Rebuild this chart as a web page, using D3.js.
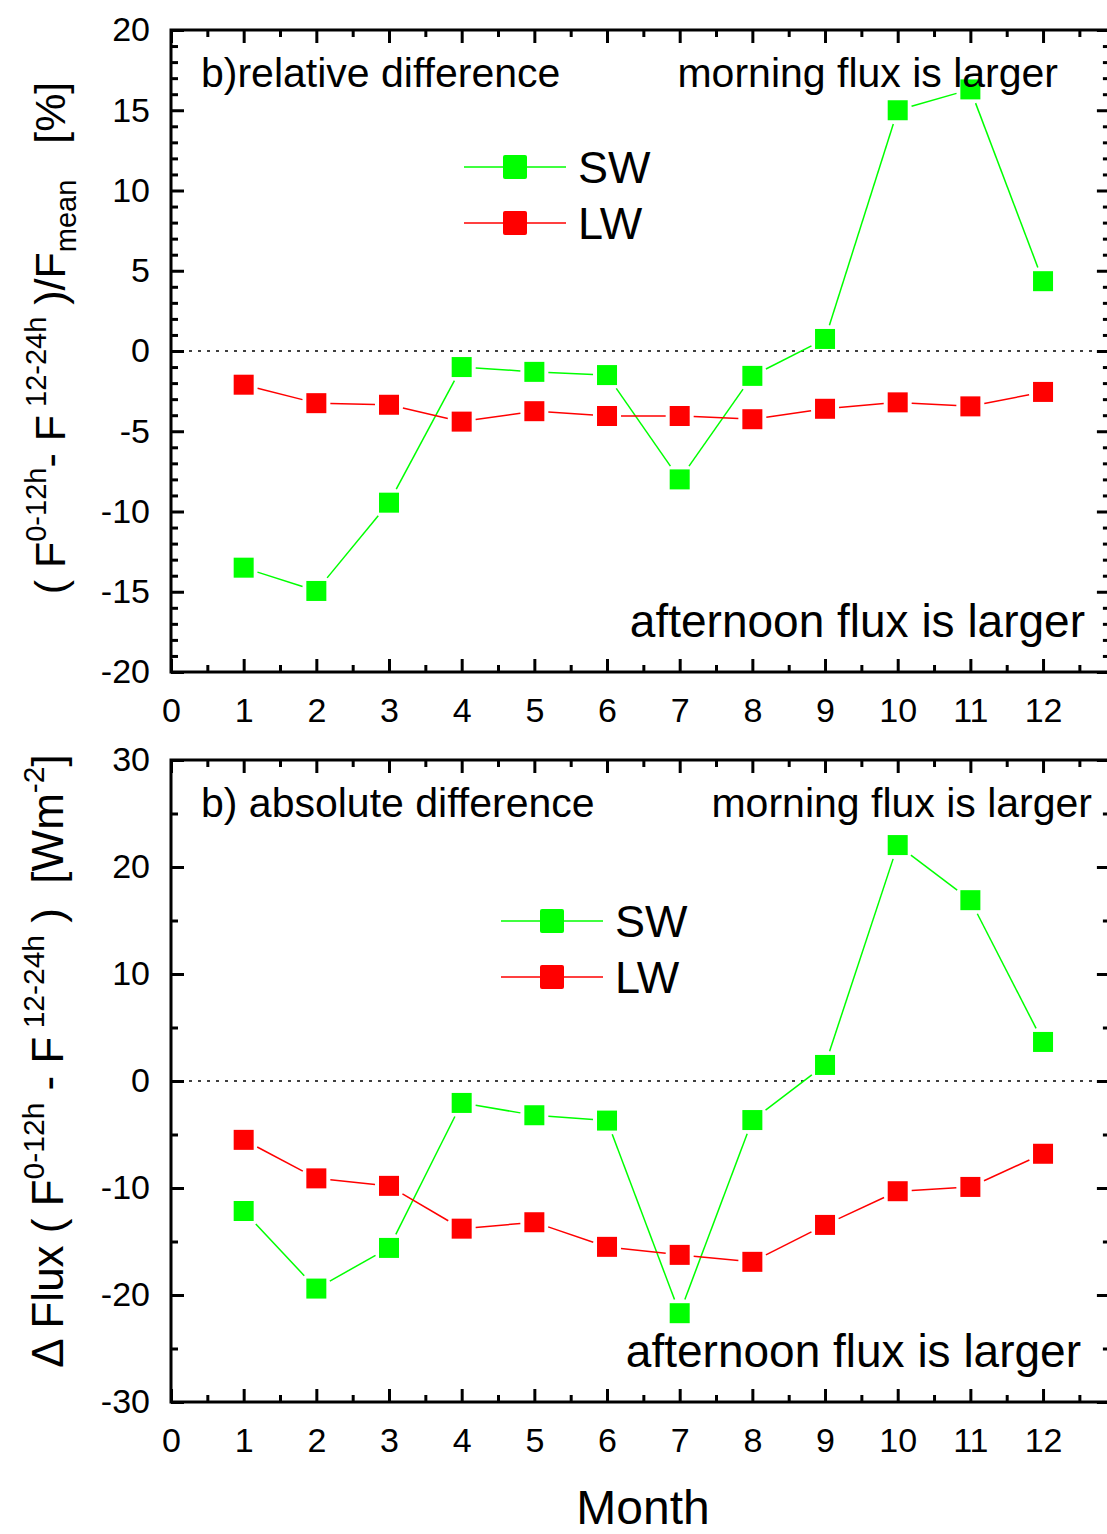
<!DOCTYPE html>
<html>
<head>
<meta charset="utf-8">
<script src="https://cdn.jsdelivr.net/npm/d3@7"></script>
<style>
  body { margin: 0; background: #fff; }
  text { font-family: "Liberation Sans", Arial, sans-serif; fill: #000; }
</style>
</head>
<body>
<div class="graph-center"></div>
<script>
// data
let months = [1, 2, 3, 4, 5, 6, 7, 8, 9, 10, 11, 12]
let swRelative = [-13.5, -14.95, -9.45, -1.0, -1.3, -1.5, -8.0, -1.55, 0.75, 15.0, 16.3, 4.35]
let lwRelative = [-2.1, -3.25, -3.35, -4.4, -3.75, -4.05, -4.05, -4.25, -3.6, -3.2, -3.45, -2.55]
let swAbsolute = [-12.15, -19.4, -15.6, -2.05, -3.2, -3.7, -21.7, -3.65, 1.5, 22.05, 16.9, 3.65]
let lwAbsolute = [-5.5, -9.1, -9.8, -13.8, -13.2, -15.5, -16.25, -16.9, -13.45, -10.3, -9.9, -6.8]

// tick values
let xMajor = [0, 1, 2, 3, 4, 5, 6, 7, 8, 9, 10, 11, 12]
let xMinor = [0.5, 1.5, 2.5, 3.5, 4.5, 5.5, 6.5, 7.5, 8.5, 9.5, 10.5, 11.5, 12.5]
let yMajorTop = [-20, -15, -10, -5, 0, 5, 10, 15, 20]
let yMinorTop = d3.range(-19, 20).filter(d => d % 5 !== 0)
let yMajorBottom = [-30, -20, -10, 0, 10, 20, 30]
let yMinorBottom = [-25, -15, -5, 5, 15, 25]

let svgWidth = 1107
let svgHeight = 1534
let green = '#00ff00'
let red = '#ff0000'

let svg = d3.select('.graph-center')
    .append('svg')
    .attr('width', svgWidth)
    .attr('height', svgHeight)

// shared x scale, right frame edge sits just outside the picture
let xScale = d3.scaleLinear().domain([0, 12.92]).range([171, 171 + 12.92 * 72.67])
let xLeft = xScale(0)
let xRight = xScale(12.92)

function drawPanel(cfg) {
    let yScale = d3.scaleLinear().domain(cfg.yDomain).range([cfg.bottom, cfg.top])
    let g = svg.append('g')

    // zero line
    g.append('line')
        .attr('x1', xLeft).attr('x2', xRight)
        .attr('y1', yScale(0)).attr('y2', yScale(0))
        .attr('stroke', '#000')
        .attr('stroke-width', 1.5)
        .attr('stroke-dasharray', '3,6')

    // ticks on all four sides, pointing inward
    let fmt = d => String(d)
    let sides = [
        {axis: d3.axisLeft(yScale), t: `translate(${xLeft},0)`, major: cfg.yMajor, minor: cfg.yMinor, label: true},
        {axis: d3.axisRight(yScale), t: `translate(${xRight},0)`, major: cfg.yMajor, minor: cfg.yMinor, label: false},
        {axis: d3.axisBottom(xScale), t: `translate(0,${cfg.bottom})`, major: xMajor, minor: xMinor, label: true},
        {axis: d3.axisTop(xScale), t: `translate(0,${cfg.top})`, major: xMajor, minor: xMinor, label: false}
    ]
    sides.forEach((s, i) => {
        let major = s.axis.tickValues(s.major).tickSize(-13).tickSizeOuter(0)
            .tickPadding(i === 0 ? 21 : 26)
            .tickFormat(s.label ? fmt : '')
        let ga = g.append('g').attr('transform', s.t).call(major)
        ga.select('.domain').remove()
        ga.selectAll('line').attr('stroke-width', 3)
        ga.selectAll('text').attr('font-size', 34).style('font-family', '"Liberation Sans", Arial, sans-serif')

        let minorAxis = s.axis.tickValues(s.minor).tickSize(-7).tickFormat('')
        let gm = g.append('g').attr('transform', s.t).call(minorAxis)
        gm.select('.domain').remove()
        gm.selectAll('line').attr('stroke-width', 3)
    })

    // frame
    g.append('rect')
        .attr('x', xLeft).attr('y', cfg.top)
        .attr('width', xRight - xLeft).attr('height', cfg.bottom - cfg.top)
        .attr('fill', 'none')
        .attr('stroke', '#000')
        .attr('stroke-width', 3)

    // series: segments stop short of the markers
    let half = 10
    cfg.series.forEach(s => {
        let pts = months.map((m, i) => [xScale(m), yScale(s.values[i])])
        let segs = d3.pairs(pts).map(([a, b]) => {
            let dx = b[0] - a[0], dy = b[1] - a[1]
            let len = Math.hypot(dx, dy)
            let ux = dx / len, uy = dy / len
            let cut = half / Math.max(Math.abs(ux), Math.abs(uy)) + 4
            return [a[0] + ux * cut, a[1] + uy * cut, b[0] - ux * cut, b[1] - uy * cut]
        })
        g.selectAll(null)
            .data(segs)
            .join('line')
            .attr('x1', d => d[0]).attr('y1', d => d[1])
            .attr('x2', d => d[2]).attr('y2', d => d[3])
            .attr('stroke', s.color)
            .attr('stroke-width', 1.5)
        g.selectAll(null)
            .data(pts)
            .join('rect')
            .attr('x', d => d[0] - half).attr('y', d => d[1] - half)
            .attr('width', half * 2).attr('height', half * 2)
            .attr('fill', s.color)
    })

    // legend
    cfg.series.forEach((s, i) => {
        let ly = cfg.legend.y + i * 56
        g.append('line')
            .attr('x1', cfg.legend.x).attr('x2', cfg.legend.x + 102)
            .attr('y1', ly).attr('y2', ly)
            .attr('stroke', s.color).attr('stroke-width', 1.5)
        g.append('rect')
            .attr('x', cfg.legend.x + 51 - 12).attr('y', ly - 12)
            .attr('width', 24).attr('height', 24).attr('rx', 2)
            .attr('fill', s.color)
        g.append('text')
            .attr('x', cfg.legend.x + 114).attr('y', ly + 16)
            .attr('font-size', 45)
            .text(s.name)
    })

    // annotations
    g.append('text').attr('x', 201).attr('y', cfg.top + 57).attr('font-size', 41).text(cfg.title)
    g.append('text').attr('x', cfg.morningX).attr('y', cfg.top + 57).attr('font-size', 41)
        .attr('text-anchor', 'end').text('morning flux is larger')
    g.append('text').attr('x', cfg.afternoonX).attr('y', cfg.bottom - 35).attr('font-size', 46)
        .attr('text-anchor', 'end').text('afternoon flux is larger')
}

drawPanel({
    top: 30, bottom: 672, yDomain: [-20, 20],
    yMajor: yMajorTop, yMinor: yMinorTop,
    series: [{name: 'SW', values: swRelative, color: green}, {name: 'LW', values: lwRelative, color: red}],
    legend: {x: 464, y: 167},
    title: 'b)relative difference', morningX: 1058, afternoonX: 1085
})

drawPanel({
    top: 760, bottom: 1402, yDomain: [-30, 30],
    yMajor: yMajorBottom, yMinor: yMinorBottom,
    series: [{name: 'SW', values: swAbsolute, color: green}, {name: 'LW', values: lwAbsolute, color: red}],
    legend: {x: 501, y: 921},
    title: 'b) absolute difference', morningX: 1092, afternoonX: 1081
})

// y axis titles
let t1 = svg.append('text')
    .attr('transform', 'translate(65,338) rotate(-90)')
    .attr('text-anchor', 'middle')
    .attr('font-size', 43)
t1.append('tspan').text('( F')
t1.append('tspan').attr('dy', -19).attr('font-size', 29).text('0-12h')
t1.append('tspan').attr('dy', 19).text('- F')
t1.append('tspan').attr('dy', -19).attr('font-size', 29).text(' 12-24h')
t1.append('tspan').attr('dy', 19).text(' )/F')
t1.append('tspan').attr('dy', 11).attr('font-size', 29).text('mean')
t1.append('tspan').attr('dy', -11).text('\u00a0\u00a0 [%]')

let t2 = svg.append('text')
    .attr('transform', 'translate(63,1061) rotate(-90)')
    .attr('text-anchor', 'middle')
    .attr('font-size', 44)
t2.append('tspan').text('\u0394 Flux ( F')
t2.append('tspan').attr('dy', -19).attr('font-size', 30).text('0-12h')
t2.append('tspan').attr('dy', 19).text(' - F')
t2.append('tspan').attr('dy', -19).attr('font-size', 30).text(' 12-24h')
t2.append('tspan').attr('dy', 19).text(' )\u00a0 [Wm')
t2.append('tspan').attr('dy', -19).attr('font-size', 30).text('-2')
t2.append('tspan').attr('dy', 19).text(']')

// x axis title
svg.append('text')
    .attr('x', 643).attr('y', 1524)
    .attr('text-anchor', 'middle')
    .attr('font-size', 48)
    .text('Month')
</script>
</body>
</html>
